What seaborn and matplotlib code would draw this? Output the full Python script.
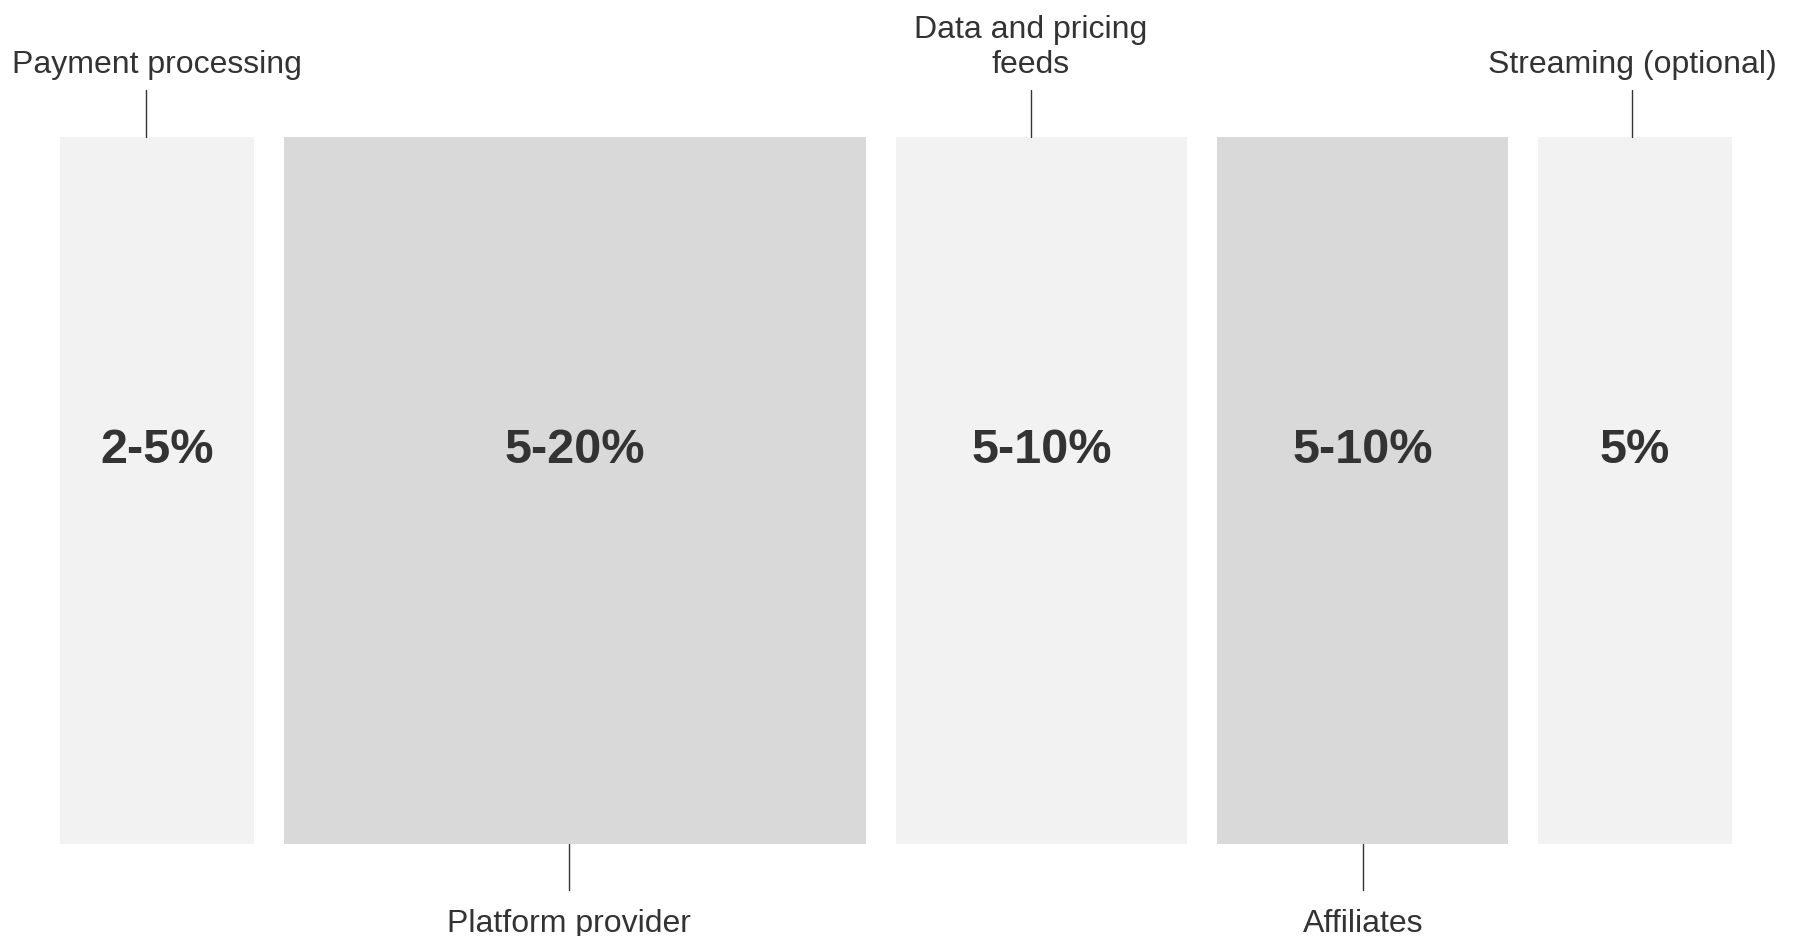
import numpy as np
import pandas as pd
import seaborn as sns
import matplotlib.pyplot as plt

sns.set_theme(style="white")
plt.rcParams["font.family"] = ["Liberation Sans", "DejaVu Sans"]

# data
categories = ["Payment processing", "Platform provider", "Data and pricing\nfeeds",
              "Affiliates", "Streaming (optional)"]
shares = ["2-5%", "5-20%", "5-10%", "5-10%", "5%"]
widths = [2, 6, 3, 3, 2]
label_side = ["top", "bottom", "top", "bottom", "top"]
colors = ["#f2f2f2", "#d9d9d9", "#f2f2f2", "#d9d9d9", "#f2f2f2"]

# small nudges of the callouts (in bar units), as in the original layout
line_shift = [-0.11, -0.06, -0.11, 0.01, -0.035]
text_shift = [0.0, -0.065, -0.115, 0.01, -0.03]

gap = 0.31
lefts = np.concatenate([[0], np.cumsum(np.array(widths[:-1]) + gap)])
centers = lefts + np.array(widths) / 2
df = pd.DataFrame({"category": categories, "height": 1.0})

fig = plt.figure(figsize=(17.94, 9.37), dpi=100)
ax = fig.add_axes([60 / 1794, 92 / 937, 1672 / 1794, 707 / 937])

sns.barplot(data=df, x="category", y="height", hue="category",
            palette=colors, legend=False, ax=ax)

# reshape bars to variable widths (marimekko-like)
for patch, left, w in zip(ax.patches, lefts, widths):
    patch.set_x(left)
    patch.set_width(w)
    patch.set_height(1.0)
    patch.set_y(0)
    patch.set_linewidth(0)

ax.set_xlim(0, lefts[-1] + widths[-1])
ax.set_ylim(0, 1)
ax.axis("off")

trans = ax.get_xaxis_transform()
txt_color = "#333333"
for cx, cat, share, side, ls, ts in zip(centers, categories, shares, label_side,
                                        line_shift, text_shift):
    ax.text(cx, 0.540, share, ha="center", va="baseline", fontsize=35,
            fontweight="bold", color=txt_color)
    if side == "top":
        ax.plot([cx + ls, cx + ls], [1.0, 1.066], color=txt_color, lw=1.0,
                transform=trans, clip_on=False)
        ax.text(cx + ts, 1.082, cat, ha="center", va="bottom", fontsize=23,
                color=txt_color, transform=trans, multialignment="center")
    else:
        ax.plot([cx + ls, cx + ls], [0.0, -0.065], color=txt_color, lw=1.0,
                transform=trans, clip_on=False)
        ax.text(cx + ts, -0.09, cat, ha="center", va="top", fontsize=23,
                color=txt_color, transform=trans)

plt.savefig("out.png", dpi=100)
plt.close()
